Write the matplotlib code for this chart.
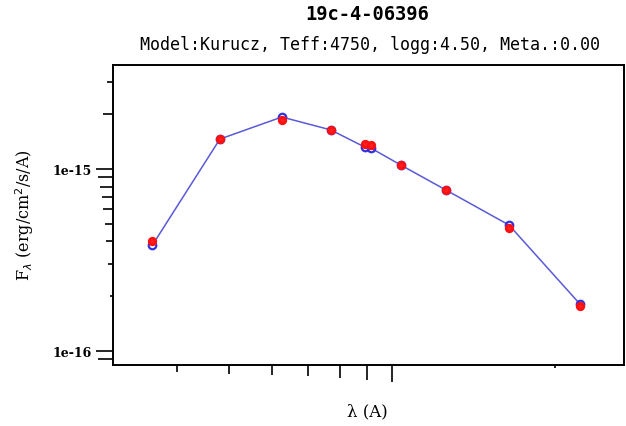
import numpy as np
import matplotlib
matplotlib.use("Agg")
import matplotlib.pyplot as plt
from matplotlib.ticker import NullFormatter

# photometric bands (A) and fluxes (erg/cm2/s/A)
wave = [3600, 4800, 6250, 7700, 8900, 9150, 10390, 12590, 16470, 22290]
flux_obs = [4.02e-16, 1.46e-15, 1.87e-15, 1.64e-15, 1.37e-15, 1.355e-15,
            1.05e-15, 7.66e-16, 4.74e-16, 1.77e-16]
flux_model = [3.82e-16, 1.46e-15, 1.93e-15, 1.64e-15, 1.32e-15, 1.30e-15,
              1.05e-15, 7.66e-16, 4.92e-16, 1.81e-16]

star = "19c-4-06396"
model_info = "Model:Kurucz, Teff:4750, logg:4.50, Meta.:0.00"

x_major = [1e4]
x_minor = [4000, 5000, 6000, 7000, 8000, 9000, 20000]
y_major = [1e-16, 1e-15]
y_major_labels = ["1e-16", "1e-15"]
y_minor = [9e-17, 2e-16, 3e-16, 4e-16, 5e-16, 6e-16, 7e-16, 8e-16, 9e-16,
           2e-15, 3e-15]

PX = 72.0 / 100  # points per pixel at dpi 100

fig = plt.figure(figsize=(6.26, 4.27), dpi=100)
ax = fig.add_axes([113 / 626, 1 - 366 / 427, 511 / 626, 300 / 427])
ax.set_xscale("log")
ax.set_yscale("log")
ax.set_xlim(3043, 26890)
ax.set_ylim(8.377e-17, 3.727e-15)

ax.plot(wave, flux_model, color="#5a5ad8", lw=1.1, zorder=2)
ax.plot(wave, flux_model, ls="none", marker="o", ms=7.5 * PX,
        mfc="none", mec="#3333dd", mew=1.6, zorder=3)
ax.plot(wave, flux_obs, ls="none", marker="o", ms=6.5 * PX,
        mfc="#ff2020", mec="#ff1010", mew=2.0, zorder=4)

for s in ax.spines.values():
    s.set_linewidth(1.4)

ax.tick_params(which="both", direction="out", width=1.2, color="black",
               top=False, right=False)
ax.set_xticks(x_major)
ax.set_xticks(x_minor, minor=True)
ax.xaxis.set_major_formatter(NullFormatter())
ax.xaxis.set_minor_formatter(NullFormatter())
ax.set_yticks(y_major)
ax.set_yticklabels(y_major_labels, fontsize=9, fontweight="bold",
                   family="DejaVu Serif")
ax.set_yticks(y_minor, minor=True)
ax.yaxis.set_minor_formatter(NullFormatter())
ax.tick_params(axis="both", which="major", length=17 * PX, pad=4 * PX)

# tick length grows with the mantissa of each tick value
x_minor_len = [7, 8.5, 10, 11.5, 13, 15, 3]
y_minor_len = [15, 3.5, 5, 7, 8.5, 10, 11.5, 13, 15, 10.5, 6.5]
for t, ln in zip(ax.xaxis.get_minor_ticks(), x_minor_len):
    t.tick1line.set_markersize(ln * PX)
for t, ln in zip(ax.yaxis.get_minor_ticks(), y_minor_len):
    t.tick1line.set_markersize(ln * PX)

fig.text(367 / 626, 1 - 14 / 427, star, ha="center", va="center",
         family="DejaVu Sans Mono", fontweight="bold", fontsize=13.5)
fig.text(370 / 626, 1 - 45 / 427, model_info, ha="center", va="center",
         family="DejaVu Sans Mono", fontsize=12)
fig.text(25 / 626, 1 - 215 / 427, r"F$_\lambda$ (erg/cm$^2$/s/A)",
         rotation=90, ha="center", va="center", family="DejaVu Serif",
         fontsize=11.5)
fig.text(367 / 626, 1 - 412 / 427, "λ (A)", ha="center",
         va="center", family="DejaVu Serif", fontsize=12)

fig.savefig("out.png", dpi=100)
